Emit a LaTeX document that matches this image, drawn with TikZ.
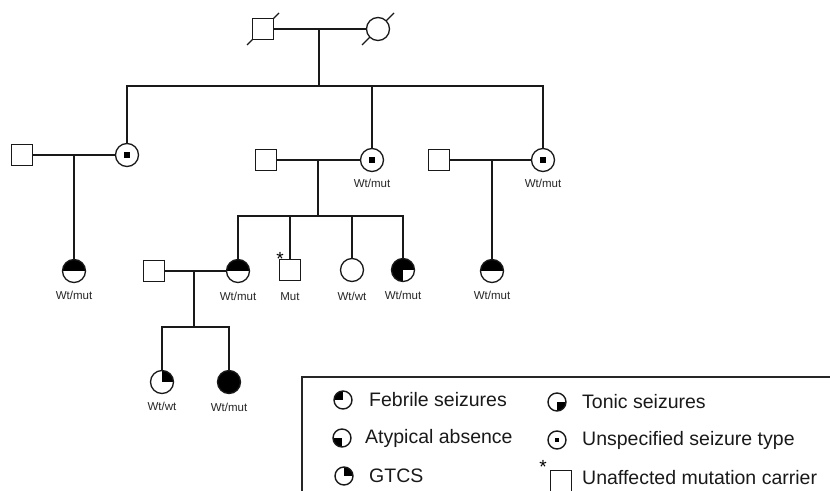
\documentclass[tikz,border=0pt]{standalone}
\usepackage{fontspec}
\setmainfont{Liberation Sans}
\begin{document}
\begin{tikzpicture}[x=1pt,y=-1pt,
  ln/.style={line width=1.2pt, draw=black!90},
  sq/.style={draw=black!90, fill=white, rectangle, minimum size=21.5pt, inner sep=0pt, line width=1.3pt},
  ci/.style={draw=black!90, fill=white, circle, minimum size=23pt, inner sep=0pt, line width=1.3pt},
  lci/.style={draw=black!90, circle, minimum size=18pt, inner sep=0pt, line width=1.4pt},
  lsq/.style={draw=black!90, rectangle, minimum size=21pt, inner sep=0pt, line width=1.3pt},
  qTL/.style={path picture={\fill[black] (path picture bounding box.center) rectangle (path picture bounding box.north west);}},
  qTR/.style={path picture={\fill[black] (path picture bounding box.center) rectangle (path picture bounding box.north east);}},
  qBL/.style={path picture={\fill[black] (path picture bounding box.center) rectangle (path picture bounding box.south west);}},
  qBR/.style={path picture={\fill[black] (path picture bounding box.center) rectangle (path picture bounding box.south east);}},
  htop/.style={path picture={\fill[black] (path picture bounding box.west) rectangle (path picture bounding box.north east);}},
  tq/.style={path picture={\fill[black] (path picture bounding box.west) rectangle (path picture bounding box.north east);
     \fill[black] (path picture bounding box.center) rectangle (path picture bounding box.south west);}},
  dot/.style={path picture={\fill[black] ([shift={(-#1,-#1)}]path picture bounding box.center) rectangle ([shift={(#1,#1)}]path picture bounding box.center);}},
  lab/.style={font=\fontsize{11.5}{12}\selectfont, text=black!85, inner sep=0pt},
  leg/.style={font=\fontsize{19.5}{22}\selectfont, text=black!90, anchor=west, inner sep=0pt},
  ast/.style={font=\fontsize{19}{19}\selectfont, inner sep=0pt}
]
\useasboundingbox (0,0) rectangle (830,490);

% Generation I
\coordinate (p1) at (263,29);
\coordinate (p2) at (378,29);
\draw[ln] ([shift={(-16pt,-16pt)}]p1) -- ([shift={(16pt,16pt)}]p1);
\draw[ln] ([shift={(-16pt,-16pt)}]p2) -- ([shift={(16pt,16pt)}]p2);
\node[sq] (I1) at (p1) {};
\node[ci] (I2) at (p2) {};
\draw[ln] (I1) -- (I2);
\coordinate (m0) at (319,29);
\coordinate (s0) at (319,86);
\draw[ln] (m0) -- (s0);
\coordinate (c1) at (127,86);
\coordinate (c2) at (372,86);
\coordinate (c3) at (543,86);

% Generation II
\node[sq] (II1) at (22,155) {};
\node[ci, dot=2.6pt] (II2) at (127,155) {};
\node[sq] (II3) at (266,160) {};
\node[ci, dot=2.6pt] (II4) at (372,160) {};
\node[lab] (lII4) at (372,183) {Wt/mut};
\node[sq] (II5) at (439,160) {};
\node[ci, dot=2.6pt] (II6) at (543,160) {};
\node[lab] (lII6) at (543,183) {Wt/mut};
\draw[ln] (II2) -- (c1) -- (c3) -- (II6);
\draw[ln] (c2) -- (II4);
\draw[ln] (II1) -- (II2);
\draw[ln] (II3) -- (II4);
\draw[ln] (II5) -- (II6);

% Generation III
\node[ci, htop] (III1) at (74,271) {};
\node[lab] (lIII1) at (74,295) {Wt/mut};
\node[sq] (III2) at (154,271) {};
\node[ci, htop] (III3) at (238,271) {};
\node[lab] (lIII3) at (238,296) {Wt/mut};
\node[sq] (III4) at (290,270) {};
\node[ast] (aIII4) at (280,259) {*};
\node[lab] (lIII4) at (290,297) {Mut};
\node[ci] (III5) at (352,270) {};
\node[lab] (lIII5) at (352,296) {Wt/wt};
\node[ci, tq] (III6) at (403,270) {};
\node[lab] (lIII6) at (403,295) {Wt/mut};
\node[ci, htop] (III7) at (492,271) {};
\node[lab] (lIII7) at (492,295) {Wt/mut};

\coordinate (m1) at (74,155);
\draw[ln] (m1) -- (III1);
\coordinate (m2) at (318,160);
\coordinate (s2) at (318,216);
\draw[ln] (m2) -- (s2);
\coordinate (t1) at (238,216);
\coordinate (t2) at (290,216);
\coordinate (t3) at (352,216);
\coordinate (t4) at (403,216);
\draw[ln] (III3) -- (t1) -- (t4) -- (III6);
\draw[ln] (t2) -- (III4);
\draw[ln] (t3) -- (III5);
\coordinate (m3) at (492,160);
\draw[ln] (m3) -- (III7);
\draw[ln] (III2) -- (III3);

% Generation IV
\coordinate (m4) at (194,271);
\coordinate (s4) at (194,327);
\draw[ln] (m4) -- (s4);
\node[ci, qTR] (IV1) at (162,382) {};
\node[lab] (lIV1) at (162,406) {Wt/wt};
\node[ci, fill=black] (IV2) at (229,382) {};
\node[lab] (lIV2) at (229,407) {Wt/mut};
\coordinate (u1) at (162,327);
\coordinate (u2) at (229,327);
\draw[ln] (IV1) -- (u1) -- (u2) -- (IV2);

% Legend
\coordinate (bx1) at (302,492);
\coordinate (bx2) at (832,377);
\draw[line width=1.2pt, draw=black!85] (bx1) |- (bx2);
\node[lci, qTL] (k1) at (343,400) {};
\node[leg] (k1t) at (369,400) {Febrile seizures};
\node[lci, qBL] (k2) at (342,438) {};
\node[leg] (k2t) at (365,438) {Atypical absence};
\node[lci, qTR] (k3) at (344,476) {};
\node[leg] (k3t) at (369,476) {GTCS};
\node[lci, qBR] (k4) at (557,402) {};
\node[leg] (k4t) at (582,402) {Tonic seizures};
\node[lci, dot=2.3pt] (k5) at (557,440) {};
\node[leg] (k5t) at (582,440) {Unspecified seizure type};
\node[lsq] (k6) at (561,481) {};
\node[ast] (ak6) at (543,467) {*};
\node[leg] (k6t) at (582,478) {Unaffected mutation carrier};
\end{tikzpicture}
\end{document}
